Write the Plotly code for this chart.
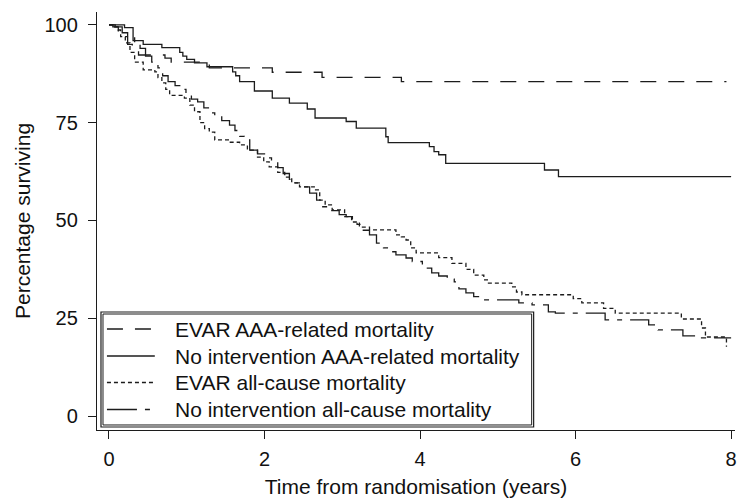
import plotly.graph_objects as go

# Kaplan-Meier style step data (time in years, percentage surviving)
evar_aaa_t = [0, 0.05, 0.12, 0.18, 0.24, 0.30, 0.38, 0.72, 0.80, 1.29, 2.10, 2.74, 3.76, 7.94]
evar_aaa_v = [100, 99.5, 98.5, 97, 95, 93.5, 92.3, 91.5, 90.5, 89, 87.9, 86.6, 85.5, 85.5]

noint_aaa_t = [0, 0.20, 0.31, 0.44, 0.68, 0.91, 0.95, 1.00, 1.10, 1.26, 1.59, 1.63, 1.68, 1.87,
               2.10, 2.32, 2.55, 2.65, 3.05, 3.18, 3.56, 3.59, 4.12, 4.18, 4.24, 4.33, 5.60, 5.78, 8.00]
noint_aaa_v = [100, 99.3, 96, 95, 94.2, 93, 92, 91.2, 90.3, 89.3, 88, 87, 85.5, 83.1,
               81.3, 80, 78.5, 76.2, 75.3, 73.6, 71.4, 69.9, 68.9, 67.6, 66.8, 64.6, 62.9, 61.2, 61.2]

evar_all_t = [0, 0.05, 0.12, 0.15, 0.21, 0.27, 0.33, 0.44, 0.59, 0.63, 0.68, 0.73, 0.78, 0.97,
              1.04, 1.10, 1.17, 1.23, 1.29, 1.36, 1.55, 1.68, 1.78, 1.91, 1.99, 2.06, 2.17, 2.26,
              2.35, 2.45, 2.64, 2.71, 2.78, 2.87, 3.03, 3.12, 3.22, 3.35, 3.69, 3.76, 3.82, 3.88,
              3.95, 4.24, 4.41, 4.59, 4.69, 4.82, 4.88, 5.18, 5.24, 5.31, 5.97, 6.08, 6.36, 6.51,
              7.36, 7.62, 7.67, 7.94]
evar_all_v = [100, 99.5, 98.7, 97, 95.4, 93, 90.5, 88.5, 88, 86.5, 85.2, 83.5, 82, 81.3,
              79.5, 77.8, 75, 73.5, 72.6, 70.6, 70, 69.3, 68, 66.2, 65, 63.7, 62.3, 61.1,
              59.6, 58.6, 57.8, 55.2, 54, 52.7, 51, 49.6, 48.3, 47.6, 46.3, 45.8, 45, 43,
              41.7, 40.5, 39, 37.5, 36, 34.8, 34, 33, 31.7, 31, 30, 28.9, 27.5, 26.3,
              24.8, 22.5, 20.2, 17.7]

noint_all_t = [0, 0.08, 0.17, 0.24, 0.33, 0.40, 0.47, 0.55, 0.63, 0.69, 0.76, 0.85, 0.91, 0.99,
               1.06, 1.14, 1.22, 1.29, 1.36, 1.45, 1.55, 1.62, 1.68, 1.74, 1.81, 1.91, 2.00, 2.09,
               2.17, 2.24, 2.32, 2.40, 2.49, 2.58, 2.67, 2.74, 2.83, 2.96, 3.05, 3.13, 3.19, 3.26,
               3.35, 3.44, 3.53, 3.60, 3.69, 3.82, 3.90, 4.03, 4.15, 4.24, 4.35, 4.44, 4.50, 4.59,
               4.69, 4.78, 5.27, 5.44, 5.65, 5.74, 6.38, 6.94, 7.06, 7.38, 7.62, 8.00]
noint_all_v = [100, 99.5, 98, 97, 95.5, 94, 92, 90.5, 89, 87, 85.5, 84.5, 83.5, 82,
               81, 80.3, 78.8, 77.5, 76.5, 75.5, 74.4, 73, 71.5, 70.6, 68, 67, 66, 65,
               63.5, 62, 60.5, 59.6, 58.6, 57, 55.2, 53.5, 52.5, 51.5, 51, 50, 49, 47.5,
               46.3, 44.2, 43, 42, 41.2, 40.4, 39.5, 37.8, 36.6, 35.8, 35, 34.3, 32.5, 31.5,
               30.5, 29.7, 28.9, 28.4, 26.6, 26.3, 24.6, 23.3, 22, 20.5, 20, 20]

names = ["EVAR AAA-related mortality",
         "No intervention AAA-related mortality",
         "EVAR all-cause mortality",
         "No intervention all-cause mortality"]

x_ticks = [0, 2, 4, 6, 8]
y_ticks = [0, 25, 50, 75, 100]

LC = "#1c1c1c"
FONT = "Liberation Sans, Arial, Helvetica, sans-serif"
dashes = ["16px,12px", "solid", "4px,3px", "30px,8px,5px,8px"]

fig = go.Figure()
series = [(evar_aaa_t, evar_aaa_v), (noint_aaa_t, noint_aaa_v),
          (evar_all_t, evar_all_v), (noint_all_t, noint_all_v)]
for (t, v), n, d in zip(series, names, dashes):
    fig.add_trace(go.Scatter(x=t, y=v, name=n, mode="lines", line_shape="hv",
                             showlegend=False,
                             line=dict(color=LC, width=1.3, dash=d)))

# Boxed legend (Stata style) drawn in paper coordinates
shapes = [
    dict(type="rect", xref="paper", yref="paper", x0=0.00625, x1=0.6844, y0=0.0072, y1=0.2823,
         line=dict(color=LC, width=1.2), fillcolor="white", layer="above"),
    dict(type="rect", xref="paper", yref="paper", x0=0.0094, x1=0.6813, y0=0.0120, y1=0.2775,
         line=dict(color=LC, width=1), fillcolor="white", layer="above"),
]
annotations = []
row_y = [0.2416, 0.1770, 0.1136, 0.0490]
for n, d, yy in zip(names, dashes, row_y):
    shapes.append(dict(type="line", xref="paper", yref="paper", x0=0.0156, x1=0.0906,
                       y0=yy, y1=yy, line=dict(color=LC, width=1.3, dash=d), layer="above"))
    annotations.append(dict(xref="paper", yref="paper", x=0.1188, y=yy, text=n,
                            showarrow=False, xanchor="left", yanchor="middle",
                            font=dict(family=FONT, size=21, color="#111")))

fig.update_layout(
    width=737, height=498,
    margin=dict(l=97, r=0, t=12, b=68),
    paper_bgcolor="white", plot_bgcolor="white",
    font=dict(family=FONT, size=21, color="#111"),
    showlegend=False,
    shapes=shapes, annotations=annotations,
    xaxis=dict(range=[-0.154, 8.05], tickvals=x_ticks, ticks="outside", ticklen=8,
               tickwidth=1.3, tickcolor=LC, showline=True, linecolor=LC, linewidth=1.3,
               showgrid=False, zeroline=False, ticklabeloverflow="allow",
               ticklabelstandoff=3,
               title=dict(text="Time from randomisation (years)", standoff=10,
                          font=dict(size=21)),
               tickfont=dict(size=20)),
    yaxis=dict(range=[-3.58, 103.3], tickvals=y_ticks, ticks="outside", ticklen=8,
               tickwidth=1.3, tickcolor=LC, showline=True, linecolor=LC, linewidth=1.3,
               showgrid=False, zeroline=False, ticklabelstandoff=6,
               title=dict(text="Percentage surviving", standoff=8, font=dict(size=21)),
               tickfont=dict(size=20)),
)

fig.write_html("out.html")
